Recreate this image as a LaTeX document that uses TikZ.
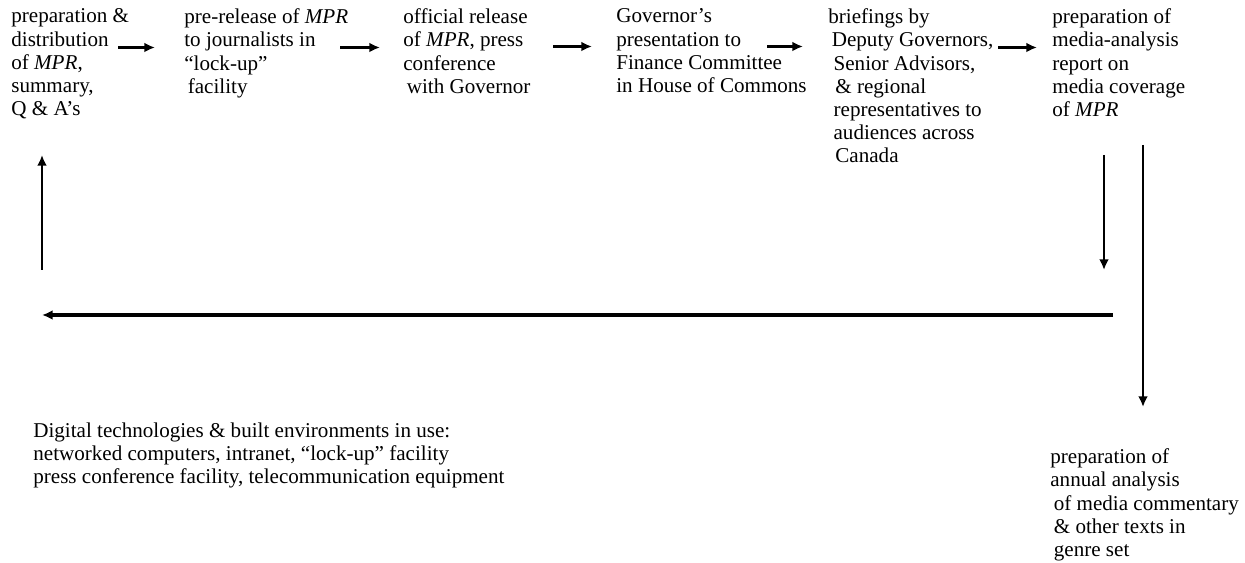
\documentclass[tikz,border=0pt]{standalone}
\usepackage{fontspec}
\setmainfont{Liberation Serif}
\usetikzlibrary{arrows.meta}

\begin{document}
\begin{tikzpicture}[x=0.02cm, y=-0.02cm, >={Latex[length=6pt,width=5.5pt]},
    txt/.style={anchor=north west, align=left, inner sep=0pt, font=\fontsize{12}{13.2}\selectfont},
    flow/.style={->, line width=1.4pt},
    bigflow/.style={->, line width=1.9pt}]
    \useasboundingbox (0,0) rectangle (1245,563);

    % Steps {n1 .. n6} along the top
    \node [txt] (n1) at (11,8.5)   {preparation \&\\distribution\\of \emph{MPR},\\summary,\\Q \& A’s};
    \node [txt] (n2) at (184,8.5)  {pre-release of \emph{MPR}\\to journalists in\\“lock-up”\\\hspace*{2pt}facility};
    \node [txt] (n3) at (403,8.5)  {official release\\of \emph{MPR}, press\\conference\\\hspace*{2pt}with Governor};
    \node [txt] (n4) at (616,8.5)  {Governor’s\\presentation to\\Finance Committee\\in House of Commons};
    \node [txt] (n5) at (828,8.5)  {briefings by\\\hspace*{2pt}Deputy Governors,\\\hspace*{3pt}Senior Advisors,\\\hspace*{4pt}\& regional\\\hspace*{3pt}representatives to\\\hspace*{3pt}audiences across\\\hspace*{4pt}Canada};
    \node [txt] (n6) at (1052,8.5) {preparation of\\media-analysis\\report on\\media coverage\\of \emph{MPR}};

    % Annual step and the list of technologies
    \node [txt] (n7) at (1050,448.5) {preparation of\\annual analysis\\\hspace*{2pt}of media commentary\\\hspace*{2pt}\& other texts in\\\hspace*{2pt}genre set};
    \node [txt] (n8) at (33,422.5) {Digital technologies \& built environments in use:\\networked computers, intranet, “lock-up” facility\\press conference facility, telecommunication equipment};

    % Paths along the top
    \draw [flow] ([shift={(107,39)}]n1.north west) -- ([shift={(-29,39)}]n2.north west);
    \draw [flow] ([shift={(156,39)}]n2.north west) -- ([shift={(-23,39)}]n3.north west);
    \draw [flow] ([shift={(150,38)}]n3.north west) -- ([shift={(-24,38)}]n4.north west);
    \draw [flow] ([shift={(151,38)}]n4.north west) -- ([shift={(-25,38)}]n5.north west);
    \draw [flow] ([shift={(170,39)}]n5.north west) -- ([shift={(-15,39)}]n6.north west);

    % Loop back to the start
    \coordinate (dnT) at (1104,155);
    \coordinate (dnB) at (1104,270);
    \coordinate (lnT) at (1143,145);
    \coordinate (lnB) at (1143,407);
    \coordinate (hzR) at (1113,315);
    \coordinate (hzL) at (42,315);
    \coordinate (upB) at (42,270);
    \coordinate (upT) at (42,155);
    \draw [flow]    (dnT) -- (dnB);
    \draw [flow]    (lnT) -- (lnB);
    \draw [bigflow] (hzR) -- (hzL);
    \draw [flow]    (upB) -- (upT);
\end{tikzpicture}
\end{document}
